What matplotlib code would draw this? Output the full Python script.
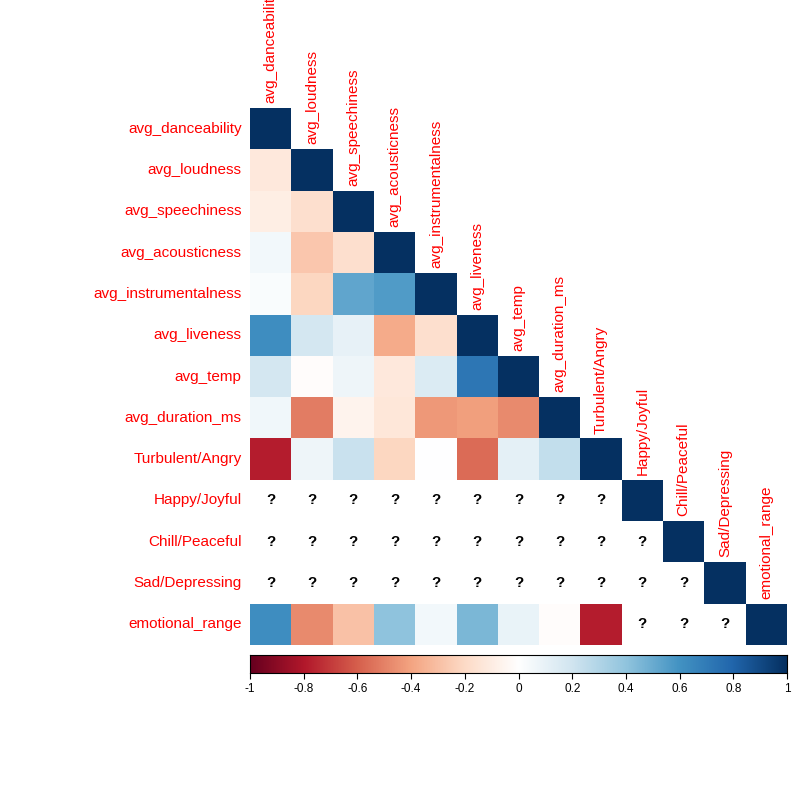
import numpy as np
import matplotlib
matplotlib.use("Agg")
import matplotlib.pyplot as plt
from matplotlib.colors import LinearSegmentedColormap

plt.rcParams["font.family"] = ["Liberation Sans", "DejaVu Sans"]

LABELS = ["avg_danceability", "avg_loudness", "avg_speechiness", "avg_acousticness",
          "avg_instrumentalness", "avg_liveness", "avg_temp", "avg_duration_ms",
          "Turbulent/Angry", "Happy/Joyful", "Chill/Peaceful", "Sad/Depressing",
          "emotional_range"]
NA = np.nan
# lower triangle rows (values left of the diagonal)
LOWER = [
    [],
    [-0.13],
    [-0.1, -0.18],
    [0.05, -0.28, -0.18],
    [0.02, -0.22, 0.52, 0.56],
    [0.62, 0.18, 0.1, -0.38, -0.18],
    [0.18, -0.02, 0.07, -0.13, 0.16, 0.72],
    [0.06, -0.52, -0.07, -0.14, -0.44, -0.42, -0.48],
    [-0.78, 0.07, 0.22, -0.22, 0.0, -0.56, 0.11, 0.24],
    [NA] * 9,
    [NA] * 10,
    [NA] * 11,
    [0.62, -0.48, -0.3, 0.4, 0.05, 0.45, 0.09, -0.02, -0.78, NA, NA, NA],
]
TICKS = [-1, -0.8, -0.6, -0.4, -0.2, 0, 0.2, 0.4, 0.6, 0.8, 1]

n = len(LABELS)
cmap = LinearSegmentedColormap.from_list(
    "rdbu", ["#67001F", "#B2182B", "#D6604D", "#F4A582", "#FDDBC7", "#FFFFFF",
             "#D1E5F0", "#92C5DE", "#4393C3", "#2166AC", "#053061"], N=200)

fig = plt.figure(figsize=(7.93, 7.93), dpi=100)
ax = fig.add_axes([250 / 793, 148 / 793, 537 / 793, 537 / 793])
ax.set_xlim(-0.5, n - 0.5)
ax.set_ylim(n - 0.5, -0.5)
ax.axis("off")

for i in range(n):
    vals = LOWER[i] + [1.0]
    for j, v in enumerate(vals):
        if np.isnan(v):
            ax.text(j, i, "?", ha="center", va="center", fontsize=11, fontweight="bold")
        else:
            ax.add_patch(plt.Rectangle((j - 0.5, i - 0.5), 1, 1,
                                       color=cmap((v + 1) / 2), lw=0))
    ax.text(-0.7, i, LABELS[i], ha="right", va="center", color="red", fontsize=11)
    ax.text(i, i - 0.62, LABELS[i], ha="center", va="bottom", color="red",
            fontsize=11, rotation=90, clip_on=False)

cax = fig.add_axes([250 / 793, 120 / 793, 537 / 793, 18 / 793])
grad = np.linspace(-1, 1, 200).reshape(1, -1)
cax.imshow(grad, cmap=cmap, aspect="auto", extent=[-1, 1, 0, 1], vmin=-1, vmax=1)
cax.set_yticks([])
cax.set_xticks(TICKS)
cax.set_xticklabels([f"{t:g}" for t in TICKS], fontsize=8.5)
cax.tick_params(axis="x", length=4, width=0.8)
for s in cax.spines.values():
    s.set_linewidth(0.8)

fig.savefig("out.png", dpi=100)
